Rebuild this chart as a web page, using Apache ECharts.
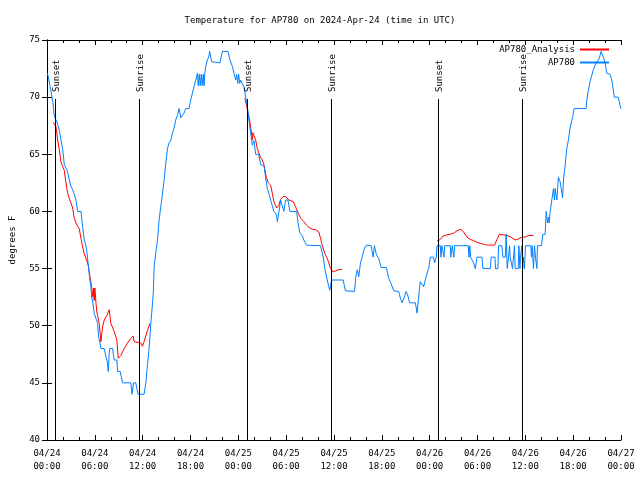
<!DOCTYPE html>
<html><head><meta charset="utf-8">
<script src="https://cdn.jsdelivr.net/npm/echarts@6/dist/echarts.min.js"></script>
<style>html,body{margin:0;background:#fff}#c{width:640px;height:480px}</style>
</head><body><div id="c"></div>
<script>
const FONT = '"DejaVu Sans Mono", monospace';
const titleText = 'Temperature for AP780 on 2024-Apr-24 (time in UTC)';
const xTickLabels = ['04/24\n00:00','04/24\n06:00','04/24\n12:00','04/24\n18:00','04/25\n00:00','04/25\n06:00','04/25\n12:00','04/25\n18:00','04/26\n00:00','04/26\n06:00','04/26\n12:00','04/26\n18:00','04/27\n00:00'];
const yTickValues = [40,45,50,55,60,65,70,75];
// hours since 04/24 00:00 UTC, temperature F
const ap780 = [[0.06,72.1],[0.21,72.1],[0.38,71.0],[0.63,70.0],[0.75,69.5],[0.88,68.5],[1.00,68.2],[1.25,67.8],[1.54,67.1],[1.75,66.3],[1.97,65.4],[2.17,64.1],[2.38,64.0],[2.57,63.5],[2.79,62.75],[3.01,62.2],[3.22,61.9],[3.42,61.5],[3.63,61.0],[3.84,60.0],[4.26,60.0],[4.47,58.7],[4.67,57.5],[4.88,57.0],[5.01,56.4],[5.22,55.05],[5.38,54.0],[5.51,53.4],[5.60,52.5],[5.76,52.0],[5.92,51.1],[6.14,51.0],[6.35,50.2],[6.47,49.0],[6.64,48.5],[6.76,48.0],[7.18,48.0],[7.39,47.3],[7.58,46.8],[7.68,46.0],[7.80,47.6],[7.89,48.0],[8.23,48.0],[8.43,47.0],[8.77,47.0],[8.85,46.0],[9.18,46.0],[9.48,45.0],[10.52,45.0],[10.67,44.0],[10.86,45.0],[11.14,45.0],[11.27,44.5],[11.43,44.0],[12.18,44.0],[12.40,45.0],[12.61,46.6],[12.81,48.0],[13.02,50.2],[13.24,52.0],[13.34,53.0],[13.44,55.2],[13.65,56.4],[13.86,57.5],[14.06,59.25],[14.27,60.4],[14.49,61.6],[14.69,62.75],[14.90,64.2],[15.11,65.5],[15.31,66.0],[15.53,66.25],[15.74,66.85],[15.94,67.3],[16.15,68.0],[16.40,68.5],[16.57,69.0],[16.78,68.2],[16.99,68.2],[17.19,68.6],[17.41,69.0],[17.82,69.0],[18.03,69.75],[18.24,70.35],[18.44,70.9],[18.66,71.5],[18.87,72.1],[18.97,71.0],[19.10,72.0],[19.22,71.0],[19.35,72.0],[19.47,71.0],[19.60,72.0],[19.70,71.0],[19.78,72.0],[19.91,72.7],[20.12,73.25],[20.29,73.5],[20.41,74.0],[20.54,73.5],[20.66,73.1],[21.70,73.0],[21.85,73.5],[22.00,74.0],[22.70,74.0],[22.95,73.25],[23.25,72.7],[23.45,72.1],[23.67,71.5],[23.79,72.0],[23.92,71.2],[24.04,72.0],[24.17,71.2],[24.29,71.5],[24.48,71.2],[24.71,70.9],[24.92,70.0],[25.13,69.2],[25.33,68.0],[25.55,66.85],[25.76,65.8],[25.96,66.2],[26.17,65.0],[26.38,65.1],[26.55,65.0],[26.80,64.1],[27.21,64.0],[27.42,63.0],[27.63,62.0],[27.86,61.5],[28.05,61.0],[28.26,61.0],[28.46,60.0],[28.80,59.7],[28.89,59.1],[29.09,59.9],[29.30,61.0],[29.52,61.0],[29.71,60.0],[29.93,61.0],[30.22,61.0],[30.47,60.0],[31.31,60.0],[31.47,59.1],[31.72,58.1],[32.02,57.9],[32.22,57.5],[32.56,57.05],[34.31,57.0],[34.65,56.0],[34.85,55.0],[35.15,54.0],[35.35,53.4],[35.47,53.1],[35.69,54.0],[37.15,54.0],[37.44,53.05],[38.57,53.0],[38.73,54.2],[38.91,54.9],[39.11,54.3],[39.32,55.5],[39.53,56.0],[39.82,56.8],[40.07,57.05],[40.66,57.0],[40.91,56.0],[41.07,57.0],[41.32,56.2],[41.61,55.9],[41.91,55.1],[42.57,55.1],[42.86,54.15],[43.16,53.7],[43.49,53.05],[44.11,53.0],[44.33,52.4],[44.54,52.0],[44.83,52.5],[45.04,53.0],[45.24,52.7],[45.49,52.0],[46.21,52.0],[46.42,51.1],[46.62,52.5],[46.74,53.4],[46.83,53.85],[47.05,54.0],[47.24,53.4],[47.46,53.4],[47.67,54.6],[47.87,55.0],[48.09,56.0],[48.50,56.0],[48.62,55.5],[48.84,56.0],[48.92,57.0],[49.00,57.0],[49.34,57.0],[49.42,56.0],[49.55,57.0],[49.71,57.0],[49.80,56.0],[49.88,57.0],[50.59,57.0],[50.66,56.0],[50.75,56.0],[50.84,57.0],[50.97,57.0],[51.03,56.0],[51.13,57.0],[52.84,57.0],[52.93,56.0],[53.03,57.0],[53.13,56.0],[53.34,56.0],[53.51,55.5],[53.72,55.0],[53.93,56.0],[54.56,56.0],[54.68,55.0],[55.60,55.0],[55.72,56.0],[56.19,56.0],[56.26,55.0],[56.56,55.0],[56.64,57.0],[57.06,57.0],[57.19,56.0],[57.48,56.0],[57.60,58.0],[57.73,55.0],[57.89,56.0],[58.02,57.0],[58.10,56.0],[58.32,56.0],[58.39,55.0],[58.52,55.0],[58.64,57.0],[58.73,55.0],[59.10,55.0],[59.19,57.0],[59.32,55.0],[59.39,56.0],[59.57,57.0],[59.67,55.0],[59.77,56.0],[59.89,55.0],[60.02,57.0],[60.69,57.0],[60.77,56.0],[60.86,57.0],[61.02,55.0],[61.15,57.0],[61.27,56.0],[61.45,55.0],[61.52,57.0],[62.02,57.0],[62.20,58.0],[62.49,58.0],[62.61,60.0],[62.78,59.0],[62.90,59.5],[62.99,59.0],[63.11,60.0],[63.32,61.0],[63.53,62.0],[63.65,61.0],[63.74,62.0],[63.95,61.0],[64.15,63.0],[64.36,62.6],[64.57,62.75],[64.68,61.2],[64.78,62.75],[64.99,64.0],[65.20,65.5],[65.40,66.25],[65.61,67.3],[65.95,68.3],[66.12,69.0],[67.62,69.0],[67.71,69.75],[67.91,70.6],[68.12,71.35],[68.33,71.9],[68.53,72.4],[68.75,72.8],[68.96,73.05],[69.28,73.4],[69.50,74.0],[69.58,74.1],[69.79,73.5],[70.00,73.0],[70.21,72.1],[70.62,72.0],[70.84,71.5],[71.04,70.6],[71.16,70.0],[71.66,70.0],[71.88,69.3],[72.00,69.0]];
const analysisNight1 = [[0.79,67.8],[1.00,67.8],[1.13,67.4],[1.34,66.25],[1.54,65.4],[1.75,64.35],[1.97,63.9],[2.17,63.6],[2.38,62.5],[2.59,61.6],[2.79,61.15],[3.01,61.0],[3.22,60.3],[3.42,59.4],[3.63,59.0],[3.84,58.7],[4.04,58.5],[4.26,57.65],[4.47,56.9],[4.67,56.3],[4.88,55.9],[5.17,55.3],[5.42,54.15],[5.60,53.4],[5.76,52.5],[5.85,53.3],[5.92,52.2],[6.01,53.3],[6.14,52.0],[6.26,51.2],[6.35,50.9],[6.55,50.2],[6.76,48.6],[6.97,49.9],[7.18,50.5],[7.51,50.9],[7.80,51.4],[8.01,50.2],[8.43,49.5],[8.77,48.75],[8.93,47.15],[9.27,47.4],[9.68,48.0],[10.11,48.5],[10.52,48.9],[10.81,49.1],[10.93,48.6],[11.77,48.5],[11.98,48.2],[12.18,48.6],[12.61,49.6],[12.90,50.2]];
const analysisNight2 = [[24.83,69.9],[25.13,68.9],[25.33,68.3],[25.55,67.4],[25.76,66.25],[25.83,66.9],[25.96,67.0],[26.17,66.25],[26.38,65.5],[26.58,65.1],[26.80,64.7],[27.01,64.5],[27.21,64.1],[27.51,63.0],[27.76,62.5],[28.05,62.3],[28.26,61.6],[28.46,60.85],[28.80,60.3],[29.09,60.55],[29.30,61.05],[29.64,61.3],[29.93,61.3],[30.34,61.0],[30.89,60.85],[31.18,60.4],[31.52,59.85],[31.81,59.4],[32.22,59.1],[32.56,58.8],[32.85,58.6],[33.27,58.45],[33.68,58.4],[34.10,58.2],[34.31,57.65],[34.52,57.05],[34.72,56.6],[34.93,56.2],[35.15,55.9],[35.35,55.5],[35.56,55.0],[35.90,54.7],[36.19,54.8],[36.60,54.9],[37.03,54.95]];
const analysisNight3 = [[48.92,57.4],[49.34,57.55],[49.67,57.85],[50.18,57.95],[50.59,58.0],[51.00,58.1],[51.43,58.3],[51.93,58.45],[52.25,58.2],[52.68,57.75],[53.09,57.55],[53.51,57.45],[53.93,57.3],[54.35,57.2],[54.97,57.1],[55.39,57.05],[56.14,57.05],[56.44,57.55],[56.76,58.0],[57.26,57.95],[57.89,57.85],[58.32,57.7],[58.73,57.5],[59.14,57.6],[59.57,57.75],[59.98,57.75],[60.39,57.9],[61.02,57.9]];
const sunNames = ['Sunset','Sunrise','Sunset','Sunrise','Sunset','Sunrise'];
const sunHours = [1.0, 11.56, 25.13, 35.6, 49.05, 59.52];
const sunLineTop = 69.85;

const analysis = analysisNight1.concat([null], analysisNight2, [null], analysisNight3);

const chart = echarts.init(document.getElementById('c'));
const tickCommon = {inside:true, length:5, lineStyle:{color:'#000', width:1}};
const xBase = {type:'value', min:0, max:72, interval:6,
  axisLine:{show:true, lineStyle:{color:'#000', width:1}},
  axisTick:tickCommon,
  minorTick:{show:true, splitNumber:3, length:3, lineStyle:{color:'#000'}},
  splitLine:{show:false}};
const yBase = {type:'value', min:40, max:75, interval:5,
  axisLine:{show:true, lineStyle:{color:'#000', width:1}},
  axisTick:tickCommon, splitLine:{show:false}};
chart.setOption({
  animation:false,
  backgroundColor:'#fff',
  title:{text:titleText, left:'center', top:11,
    textStyle:{fontFamily:FONT, fontSize:9, fontWeight:'normal', color:'#000'}},
  grid:{left:46, right:19, top:40, bottom:40},
  legend:{orient:'vertical', right:31, top:44, padding:0, align:'right', itemWidth:29, itemHeight:2, itemGap:2,
    textStyle:{fontFamily:FONT, fontSize:9, color:'#000', lineHeight:11},
    data:[{name:'AP780_Analysis', icon:'rect'},{name:'AP780', icon:'rect'}]},
  xAxis:[
    Object.assign({}, xBase, {position:'bottom',
      axisLabel:{fontFamily:FONT, fontSize:9, color:'#000', lineHeight:13, margin:7,
        formatter:v=>xTickLabels[Math.round(v/6)]}}),
    Object.assign({}, xBase, {position:'top', axisLabel:{show:false}})
  ],
  yAxis:[
    Object.assign({}, yBase, {position:'left', name:'degrees F', nameLocation:'middle', nameGap:30,
      nameTextStyle:{fontFamily:FONT, fontSize:9, color:'#000'},
      axisLabel:{fontFamily:FONT, fontSize:9, color:'#000', margin:7}}),
    Object.assign({}, yBase, {position:'right', axisLabel:{show:false}})
  ],
  series:[
    {name:'AP780_Analysis', type:'line', data:analysis, showSymbol:false, connectNulls:false,
      lineStyle:{color:'#ff0000', width:1}, itemStyle:{color:'#ff0000'}, z:2},
    {name:'AP780', type:'line', data:ap780, showSymbol:false,
      lineStyle:{color:'#0080ff', width:1}, itemStyle:{color:'#0080ff'}, z:3},
    {name:'sun', type:'custom', z:4, silent:true,
      data:sunHours.map(h=>[h, sunLineTop]),
      renderItem:function(params, api){
        const top = api.coord([api.value(0), api.value(1)]);
        const bot = api.coord([api.value(0), 40]);
        const x = Math.round(top[0]) + 0.5;
        return {type:'group', children:[
          {type:'line', shape:{x1:x, y1:Math.round(top[1]), x2:x, y2:bot[1]},
            style:{stroke:'#000', lineWidth:1}},
          {type:'text', x:x+1.5, y:Math.round(top[1])-7, rotation:Math.PI/2,
            style:{text:sunNames[params.dataIndex], font:'9px ' + FONT, fill:'#000',
              textAlign:'left', textVerticalAlign:'middle'}}
        ]};
      }}
  ]
});
</script></body></html>
